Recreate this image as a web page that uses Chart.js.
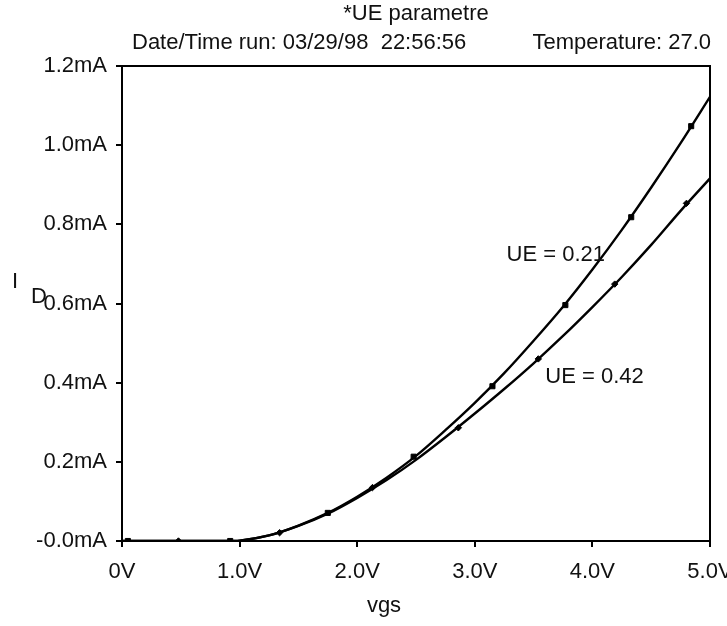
<!DOCTYPE html>
<html><head><meta charset="utf-8">
<script src="https://cdn.jsdelivr.net/npm/chart.js@4.4.0/dist/chart.umd.min.js"></script>
<style>html,body{margin:0;padding:0;background:#fff}#wrap{width:727px;height:626px;position:relative}</style>
</head><body><div id="wrap"><canvas id="c" width="727" height="626"></canvas></div>
<script>
// ---- data ----
const vgs = [0, 0.5, 0.9, 1.0, 1.25, 1.5, 1.75, 2.0, 2.25, 2.5, 2.75, 3.0, 3.25, 3.5, 3.75, 4.0, 4.25, 4.5, 4.75, 5.0];
const idUE021 = [0, 0, 0, 0.001, 0.014, 0.039, 0.071, 0.112, 0.160, 0.215, 0.280, 0.349, 0.424, 0.506, 0.592, 0.686, 0.786, 0.893, 1.005, 1.122];
const idUE042 = [0, 0, 0, 0.001, 0.014, 0.038, 0.069, 0.109, 0.154, 0.205, 0.262, 0.322, 0.384, 0.449, 0.518, 0.591, 0.667, 0.748, 0.834, 0.916];
const markSqX = [0.05, 0.92, 1.75, 2.48, 3.15, 3.77, 4.33, 4.84];
const markSqY = [0, 0, 0.071, 0.213, 0.391, 0.596, 0.818, 1.048];
const markDiX = [0.48, 1.34, 2.13, 2.86, 3.54, 4.19, 4.80];
const markDiY = [0, 0.021, 0.135, 0.286, 0.460, 0.649, 0.853];
const xTicks = [0, 1, 2, 3, 4, 5];
const xTickLabels = ['0V', '1.0V', '2.0V', '3.0V', '4.0V', '5.0V'];
const yTicks = [0, 0.2, 0.4, 0.6, 0.8, 1.0, 1.2];
const yTickLabels = ['-0.0mA', '0.2mA', '0.4mA', '0.6mA', '0.8mA', '1.0mA', '1.2mA'];
const curveLabels = ['UE = 0.21', 'UE = 0.42'];
const curveLabelX = [3.27, 3.60];
const curveLabelY = [0.722, 0.414];
const titleText = '*UE parametre';
const subLeft = 'Date/Time run: 03/29/98  22:56:56';
const subRight = 'Temperature: 27.0';
const xTitle = 'vgs';

const FONT = '"Liberation Sans", Arial, sans-serif';
const FS = 22;
const TXT = '#111';

const textPlugin = {
  id: 'texts',
  afterDraw(chart) {
    const ctx = chart.ctx, a = chart.chartArea;
    const xs = chart.scales.x, ys = chart.scales.y;
    ctx.save();
    // frame
    ctx.strokeStyle = '#000'; ctx.lineWidth = 2;
    ctx.strokeRect(a.left, a.top, a.right - a.left, a.bottom - a.top);
    ctx.fillStyle = TXT;
    ctx.font = FS + 'px ' + FONT;
    ctx.textBaseline = 'alphabetic';
    ctx.textAlign = 'center';
    ctx.fillText(titleText, 416, 20);
    ctx.textAlign = 'left';
    ctx.fillText(subLeft, 132, 49);
    ctx.textAlign = 'right';
    ctx.fillText(subRight, 711, 49);
    ctx.textAlign = 'center';
    ctx.fillText(xTitle, 384, 612);
    ctx.textAlign = 'left';
    ctx.fillText('I', 12, 288);
    ctx.fillText('D', 31, 303);
    ctx.textBaseline = 'middle';
    for (let i = 0; i < curveLabels.length; i++) {
      ctx.fillText(curveLabels[i], xs.getPixelForValue(curveLabelX[i]), ys.getPixelForValue(curveLabelY[i]));
    }
    ctx.restore();
  }
};

const pts = (xa, ya) => xa.map((v, i) => ({x: v, y: ya[i]}));

new Chart(document.getElementById('c'), {
  type: 'scatter',
  data: {
    datasets: [
      {data: pts(vgs, idUE021), showLine: true, borderColor: '#000', borderWidth: 2.4, pointRadius: 0, cubicInterpolationMode: 'monotone', fill: false},
      {data: pts(vgs, idUE042), showLine: true, borderColor: '#000', borderWidth: 2.4, pointRadius: 0, cubicInterpolationMode: 'monotone', fill: false},
      {data: pts(markSqX, markSqY), showLine: false, pointStyle: 'rect', pointRadius: 3.6, backgroundColor: '#000', borderColor: '#000', borderWidth: 1},
      {data: pts(markDiX, markDiY), showLine: false, pointStyle: 'rectRot', pointRadius: 3.2, backgroundColor: '#000', borderColor: '#000', borderWidth: 1}
    ]
  },
  options: {
    responsive: false,
    animation: false,
    devicePixelRatio: 1,
    layout: {padding: {left: 0, right: 17, top: 66, bottom: 0}},
    plugins: {legend: {display: false}, tooltip: {enabled: false}, title: {display: false}},
    scales: {
      x: {
        type: 'linear', min: 0, max: 5,
        afterBuildTicks: s => { s.ticks = xTicks.map(v => ({value: v})); },
        afterFit: s => { s.height = 85; s.paddingLeft = 0; s.paddingRight = 0; },
        ticks: {callback: (v, i) => xTickLabels[i], color: TXT, font: {family: FONT, size: FS}, padding: 12, maxRotation: 0, autoSkip: false},
        grid: {drawOnChartArea: false, drawTicks: true, tickLength: 6, color: '#000', lineWidth: 2},
        border: {display: true, color: '#000', width: 2}
      },
      y: {
        type: 'linear', min: 0, max: 1.2,
        afterBuildTicks: s => { s.ticks = yTicks.map(v => ({value: v})); },
        afterFit: s => { s.width = 122; s.paddingTop = 0; s.paddingBottom = 0; },
        ticks: {callback: (v, i) => yTickLabels[i], color: TXT, font: {family: FONT, size: FS}, padding: 9, autoSkip: false},
        grid: {drawOnChartArea: false, drawTicks: true, tickLength: 6, color: '#000', lineWidth: 2},
        border: {display: true, color: '#000', width: 2}
      }
    }
  },
  plugins: [textPlugin]
});
</script>
</body></html>
